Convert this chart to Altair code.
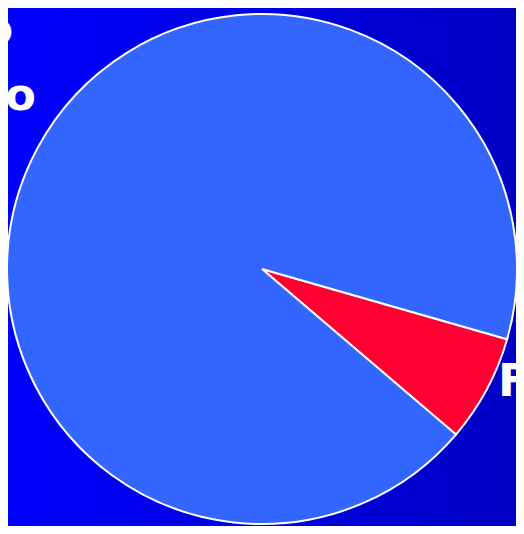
import altair as alt
import pandas as pd

categories = ["Falso", "Correcto"]
values = [6.8, 93.2]
slice_order = [0, 1]
colors = ["#ff0033", "#3366ff"]
label_red = ["Falso", ""]
label_blue = ["", "Correcto\nVerdadero"]

df = pd.DataFrame({
    "category": categories,
    "value": values,
    "ord": slice_order,
    "label_red": label_red,
    "label_blue": label_blue,
})

W, H = 508, 518
CX, CY = 254, 261
start = 1.850
two_pi = 6.283185307

theta = alt.Theta("value:Q", stack=True, scale=alt.Scale(range=[start, start + two_pi]))
order = alt.Order("ord:Q")

bg = alt.Chart(pd.DataFrame({"a": [0]})).mark_rect(
    fill=alt.Gradient(
        gradient="linear",
        stops=[alt.GradientStop(color="#0000ff", offset=0),
               alt.GradientStop(color="#0000c4", offset=1)],
        x1=0, x2=1, y1=0, y2=0,
    )
).encode(x=alt.value(0), x2=alt.value(W), y=alt.value(0), y2=alt.value(H))

base = alt.Chart(df)

pie = base.mark_arc(outerRadius=255, stroke="white", strokeWidth=2, x=CX, y=CY).encode(
    theta=theta,
    order=order,
    color=alt.Color("category:N", scale=alt.Scale(domain=categories, range=colors), legend=None),
)

txt_red = base.mark_text(
    radius=268, align="left", baseline="alphabetic", fontSize=45, x=CX, y=CY,
    fontWeight="bold", font="DejaVu Sans", color="white",
).encode(theta=theta, order=order, text="label_red:N")

txt_blue = base.mark_text(
    radius=430, dx=21, dy=-36, align="center", baseline="middle", fontSize=45, x=CX, y=CY,
    fontWeight="bold", font="DejaVu Sans", color="white", lineBreak="\n", lineHeight=66,
).encode(theta=theta, order=order, text="label_blue:N")

chart = alt.layer(bg, pie, txt_red, txt_blue).properties(
    width=W, height=H, autosize="none", padding=0,
    background="#0000e0",
).configure_view(strokeWidth=0)

chart.save("out.html", embed_options={"renderer": "svg", "actions": False})
